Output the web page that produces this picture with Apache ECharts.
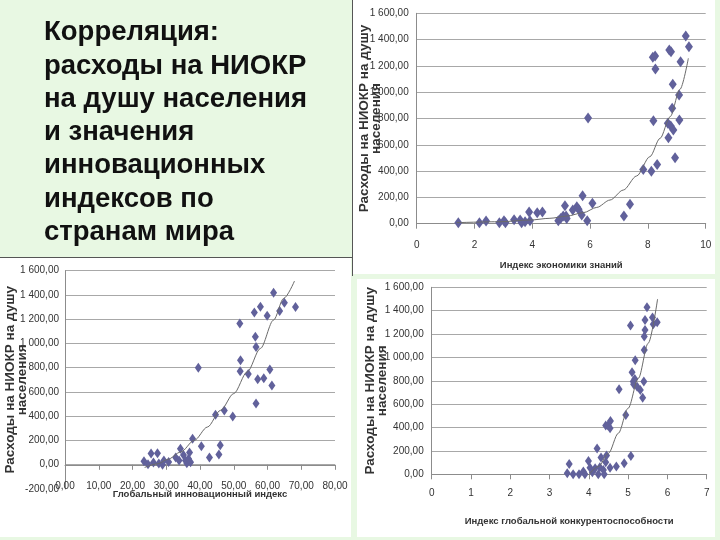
<!DOCTYPE html>
<html>
<head>
<meta charset="utf-8">
<script src="https://cdn.jsdelivr.net/npm/echarts@6/dist/echarts.min.js"></script>
<style>
html,body{margin:0;padding:0;background:#e8f8e3;}
#c{width:720px;height:540px;}
</style>
</head>
<body>
<div id="c"></div>
<script>
// Chart 1: Knowledge Economy Index vs R&D spending per capita
const keiX = [1.44,2.17,2.4,2.86,3.02,3.07,3.37,3.58,3.63,3.75,3.92,3.89,4.17,4.35,4.9,4.98,5.07,5.13,5.17,5.19,5.4,5.54,5.6,5.71,5.74,5.9,5.93,6.08,7.17,7.38,7.84,8.12,8.19,8.17,8.25,8.26,8.32,8.69,8.71,8.74,8.8,8.79,8.84,8.86,8.88,8.94,9.08,9.09,9.13,9.31,9.42];
const keiY = [8,8,20,8,23,8,30,28,8,15,23,89,84,89,23,40,58,137,58,40,104,129,109,66,213,23,804,155,58,147,413,398,783,1265,1275,1176,451,763,654,1321,1308,743,877,1060,712,502,979,789,1232,1427,1346];
const keiTrendX = [1.38,2.88,3.92,4.61,5.19,5.77,6.23,6.69,7.15,7.61,8.07,8.42,8.77,9.11,9.4];
const keiTrendY = [8,15,28,41,58,84,124,180,256,363,510,649,814,1022,1258];

// Chart 2: Global Innovation Index
const giiX = [23.4,24.6,25.5,26.2,27.4,27.8,28.9,29.3,30.7,32.8,34.2,33.8,35.1,35.7,36.1,36.6,36.9,37.2,37.8,39.5,40.4,42.8,44.6,45.6,46.0,47.2,49.7,51.8,52.0,51.9,54.3,56.1,56.4,56.6,56.6,57.1,57.9,58.9,59.9,60.7,61.3,61.8,63.6,65.0,68.3];
const giiY = [28,5,92,18,94,10,0,36,22,60,132,36,80,36,13,50,100,20,215,799,152,60,413,85,160,448,397,1165,862,771,749,1256,1055,970,504,705,1303,713,1229,785,653,1419,1267,1336,1300];
const giiTrendX = [23.6,27.5,30.4,34.3,38.3,42.2,46.1,50.0,54.0,57.9,61.8,64.8,68.0];
const giiTrendY = [-22,8,44,105,201,311,449,587,766,959,1193,1372,1515];

// Chart 3: Global Competitiveness Index
const gciX = [3.45,3.5,3.6,3.75,3.86,3.9,3.99,4.03,4.09,4.16,4.21,4.24,4.28,4.31,4.37,4.39,4.43,4.45,4.43,4.49,4.55,4.54,4.54,4.7,4.77,4.9,4.94,5.07,5.06,5.1,5.13,5.17,5.18,5.14,5.23,5.31,5.37,5.4,5.41,5.41,5.43,5.43,5.48,5.62,5.64,5.74];
const gciY = [9,88,0,0,23,0,114,57,17,51,220,0,60,143,37,0,103,160,417,417,456,394,57,66,728,94,508,157,1273,873,793,816,976,770,750,722,656,793,1064,1178,1235,1321,1429,1341,1284,1301];
const gciTrendX = [3.99,4.24,4.5,4.75,5.0,5.26,5.51,5.75];
const gciTrendY = [-6,66,180,351,565,821,1121,1500];

const yMax = 1600, yInterval = 200;
const yName = 'Расходы на НИОКР на душу\nнаселения';
const titleLines = ['Корреляция:','расходы на НИОКР','на душу населения','и значения','инновационных','индексов по','странам мира'];

function zip(a,b){return a.map((v,i)=>[v,b[i]]);}
function fmtY(v){
  const s = Math.abs(v).toFixed(0).replace(/\B(?=(\d{3})+(?!\d))/g,' ');
  return (v<0?'-':'')+s+',00';
}
const labelFont = {fontFamily:'"Liberation Sans",Arial', fontSize:10, color:'#333'};
const nameX = {fontFamily:'"Liberation Sans",Arial', fontWeight:'bold', fontSize:9.5, color:'#333'};
const nameY = {fontFamily:'"Liberation Sans",Arial', fontWeight:'bold', fontSize:13.5, lineHeight:12, color:'#333'};
const axLine = {show:true, onZero:false, lineStyle:{color:'#8c8c8c', width:1}};
const markerColor = '#61619b';

function xAx(gi, max, interval, name, gap, margin, fmt, offset){
  return {type:'value', gridIndex:gi, min:0, max:max, interval:interval, offset:offset||0,
    axisLine:axLine,
    axisTick:{show:true, length:5, lineStyle:{color:'#8c8c8c'}},
    splitLine:{show:false},
    axisLabel:Object.assign({margin:margin, formatter:fmt}, labelFont),
    name:name, nameLocation:'middle', nameGap:gap, nameMoveOverlap:false, nameTextStyle:nameX};
}
function yAx(gi, min, gap, margin, showMin){
  return {type:'value', gridIndex:gi, min:min, max:yMax, interval:yInterval,
    axisLine:axLine, axisTick:{show:false},
    splitLine:{show:true, showMinLine:showMin, lineStyle:{color:'#a8a8a8', width:1}},
    axisLabel:Object.assign({margin:margin, formatter:fmtY}, labelFont),
    name:yName, nameLocation:'middle', nameRotate:90, nameGap:gap, nameMoveOverlap:false, nameTextStyle:nameY};
}
function scat(gi, xs, ys, size){
  return {type:'scatter', xAxisIndex:gi, yAxisIndex:gi, data:zip(xs,ys), symbol:'diamond', symbolSize:size,
    itemStyle:{color:markerColor, opacity:1}, silent:true};
}
function trend(gi, xs, ys){
  return {type:'line', xAxisIndex:gi, yAxisIndex:gi, data:zip(xs,ys), showSymbol:false, smooth:0.3,
    smoothMonotone:'x', lineStyle:{color:'#6a6a6a', width:1}, silent:true, z:3};
}

const chart = echarts.init(document.getElementById('c'), null, {renderer:'canvas'});
chart.setOption({
  backgroundColor:'#e8f8e3',
  animation:false,
  graphic:[
    {type:'rect', shape:{x:352, y:0, width:363, height:274}, style:{fill:'#ffffff'}, z:-10},
    {type:'rect', shape:{x:0, y:257, width:351, height:280}, style:{fill:'#ffffff'}, z:-10},
    {type:'rect', shape:{x:357, y:279, width:358, height:258}, style:{fill:'#ffffff'}, z:-10},
    {type:'line', shape:{x1:352.5, y1:0, x2:352.5, y2:276}, style:{stroke:'#555', lineWidth:1}, z:-5},
    {type:'line', shape:{x1:0, y1:257.5, x2:352, y2:257.5}, style:{stroke:'#555', lineWidth:1}, z:-5},
    {type:'text', x:44, y:16, style:{text:titleLines.join('\n'), font:'bold 27.5px "Liberation Sans", Arial', lineHeight:33.3, fill:'#111', textVerticalAlign:'top'}}
  ],
  grid:[
    {left:416.7, right:14.3, top:13.3, bottom:316.3},
    {left:65, right:385, top:270.7, bottom:51},
    {left:431.7, right:13.3, top:287.3, bottom:65.7}
  ],
  xAxis:[
    xAx(0, 10, 2, 'Индекс экономики знаний', 37, 17, v=>String(v)),
    xAx(1, 80, 10, 'Глобальный инновационный индекс', 25, 16, v=>v.toFixed(0)+',00', -24.2),
    xAx(2, 7, 1, 'Индекс глобальной конкурентоспособности', 42, 14, v=>String(v))
  ],
  yAxis:[
    yAx(0, 0, 34, 8, true),
    yAx(1, -200, 37, 6, false),
    yAx(2, 0, 43.5, 8, true)
  ],
  series:[
    scat(0, keiX, keiY, [8,11]), trend(0, keiTrendX, keiTrendY),
    scat(1, giiX, giiY, [7,10]), trend(1, giiTrendX, giiTrendY),
    scat(2, gciX, gciY, [7,10]), trend(2, gciTrendX, gciTrendY)
  ]
});
</script>
</body>
</html>
